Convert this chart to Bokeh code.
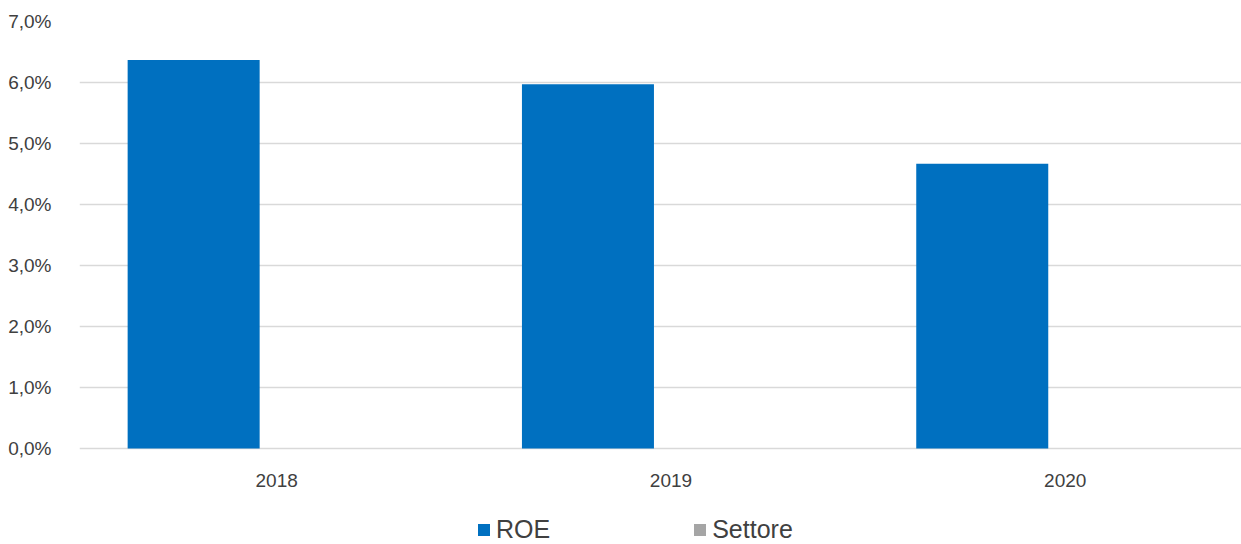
from bokeh.plotting import figure
from bokeh.models import Range1d, FixedTicker, Legend, LegendItem, ColumnDataSource
from bokeh.embed import file_html
from bokeh.resources import INLINE

# ROE per anno (%), confronto con il settore
years = ["2018", "2019", "2020"]
roe = [6.37, 5.97, 4.67]
settore = [0.0, 0.0, 0.0]
y_ticks = [0, 1, 2, 3, 4, 5, 6, 7]
y_tick_labels = ["0,0%", "1,0%", "2,0%", "3,0%", "4,0%", "5,0%", "6,0%", "7,0%"]

BLUE = "#0070C0"
GREY = "#A5A5A5"
TEXT = "#404040"
GRID = "#D9D9D9"
FONT = "Liberation Sans"

offset = 0.2105
bar_w = 0.3348
centers = [i + 0.5 for i in range(len(years))]

src_roe = ColumnDataSource(dict(x=[c - offset for c in centers], top=roe))
src_set = ColumnDataSource(dict(x=[c + offset for c in centers], top=settore))

# frame runs to the bottom edge; the category axis is pinned at zero so the
# space under it can hold the legend
p = figure(width=1241, height=544, output_backend="svg", toolbar_location=None,
           x_range=Range1d(0, 2.947), y_range=Range1d(-1.574, 7),
           min_border_left=79, min_border_right=0, min_border_top=21,
           min_border_bottom=0)
p.outline_line_color = None
p.background_fill_color = "white"

r_roe = p.vbar(x="x", top="top", width=bar_w, source=src_roe,
               fill_color=BLUE, line_color=None)
r_set = p.vbar(x="x", top="top", width=bar_w, source=src_set,
               fill_color=GREY, line_color=None)

p.xgrid.grid_line_color = None
p.ygrid.grid_line_color = GRID
p.ygrid.grid_line_width = 1.3
p.ygrid.ticker = FixedTicker(ticks=y_ticks)

p.yaxis.ticker = FixedTicker(ticks=y_ticks)
p.yaxis.major_label_overrides = {t: lab for t, lab in zip(y_ticks, y_tick_labels)}
p.yaxis.axis_line_color = None
p.yaxis.major_tick_line_color = None
p.yaxis.minor_tick_line_color = None
p.yaxis.major_label_standoff = 22
p.yaxis.major_label_text_font = FONT
p.yaxis.major_label_text_font_size = "19px"
p.yaxis.major_label_text_color = TEXT

p.xaxis.fixed_location = 0
p.xaxis.ticker = FixedTicker(ticks=centers)
p.xaxis.major_label_overrides = {c: y for c, y in zip(centers, years)}
p.xaxis.axis_line_color = None
p.xaxis.major_tick_line_color = None
p.xaxis.minor_tick_line_color = None
p.xaxis.major_label_standoff = 20
p.xaxis.major_label_text_font = FONT
p.xaxis.major_label_text_font_size = "19px"
p.xaxis.major_label_text_color = TEXT

legend = Legend(items=[LegendItem(label="ROE", renderers=[r_roe]),
                       LegendItem(label="Settore", renderers=[r_set])],
                orientation="horizontal", location=(397, 0),
                margin=0, padding=0, spacing=142,
                glyph_width=15, glyph_height=15, label_standoff=5,
                label_text_font=FONT, label_text_font_size="25px",
                label_text_color=TEXT, border_line_color=None,
                background_fill_alpha=0)
p.add_layout(legend, "center")

open("out.html", "w").write(file_html(p, INLINE))
